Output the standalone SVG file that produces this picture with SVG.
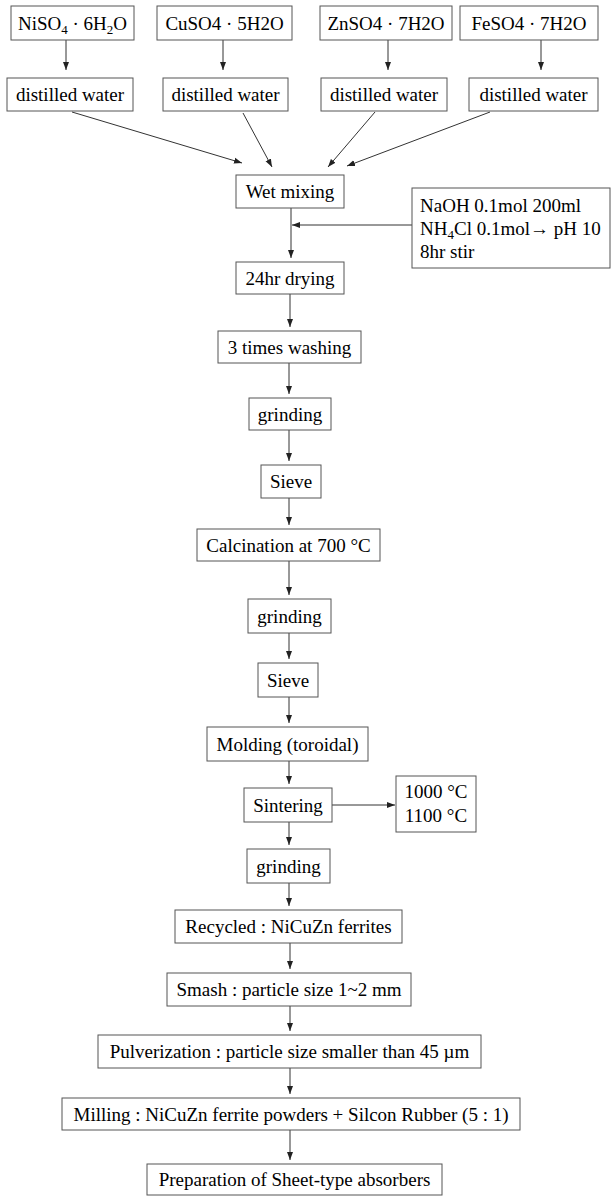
<svg xmlns="http://www.w3.org/2000/svg" width="611" height="1196" viewBox="0 0 611 1196">
<style>
.b{fill:#fff;stroke:#555;stroke-width:1}
.t{font-family:"Liberation Serif","Times New Roman",serif;font-size:19px;fill:#000;text-anchor:middle}
.l{text-anchor:start}
.c{stroke:#333;stroke-width:1;fill:none;marker-end:url(#ah)}
</style>
<defs>
<marker id="ah" markerUnits="userSpaceOnUse" markerWidth="8" markerHeight="7" refX="8" refY="3.5" orient="auto"><path d="M0,0.5 L8,3.5 L0,6.5 z" fill="#222"/></marker>
</defs>
<rect width="611" height="1196" fill="#fff"/>
<g id="connectors">
<line class="c" x1="66" y1="40" x2="66" y2="70"/>
<line class="c" x1="223" y1="40" x2="223" y2="70"/>
<line class="c" x1="388" y1="40" x2="388" y2="70"/>
<line class="c" x1="541" y1="40" x2="541" y2="70"/>
<line class="c" x1="72" y1="112" x2="242" y2="163"/>
<line class="c" x1="243" y1="113" x2="272" y2="167"/>
<line class="c" x1="375" y1="112" x2="328" y2="167"/>
<line class="c" x1="490" y1="112" x2="347" y2="166"/>
<line class="c" x1="291" y1="208" x2="291" y2="258"/>
<line class="c" x1="412" y1="225" x2="292" y2="225"/>
<line class="c" x1="290" y1="294" x2="290" y2="327"/>
<line class="c" x1="289" y1="363" x2="289" y2="394"/>
<line class="c" x1="289" y1="430" x2="289" y2="461"/>
<line class="c" x1="289" y1="498" x2="289" y2="525"/>
<line class="c" x1="289" y1="561" x2="289" y2="595"/>
<line class="c" x1="289" y1="633" x2="289" y2="659"/>
<line class="c" x1="289" y1="697" x2="289" y2="723"/>
<line class="c" x1="289" y1="761" x2="289" y2="784"/>
<line class="c" x1="332" y1="805" x2="395" y2="805"/>
<line class="c" x1="289" y1="822" x2="289" y2="845"/>
<line class="c" x1="289" y1="883" x2="289" y2="906"/>
<line class="c" x1="290" y1="943" x2="290" y2="969"/>
<line class="c" x1="290" y1="1006" x2="290" y2="1031"/>
<line class="c" x1="290" y1="1068" x2="290" y2="1094"/>
<line class="c" x1="290" y1="1130" x2="290" y2="1160"/>
</g>
<g id="niso4"><rect class="b" x="11" y="6" width="123" height="34"/><text class="t" x="72.5" y="29.5">NiSO<tspan font-size="13" dy="4">4</tspan><tspan dy="-4"> · 6H</tspan><tspan font-size="13" dy="4">2</tspan><tspan dy="-4">O</tspan></text></g>
<g id="cuso4"><rect class="b" x="157" y="6" width="135" height="34"/><text class="t" x="224.5" y="29.5">CuSO4 · 5H2O</text></g>
<g id="znso4"><rect class="b" x="320" y="6" width="132" height="34"/><text class="t" x="386" y="29.5">ZnSO4 · 7H2O</text></g>
<g id="feso4"><rect class="b" x="460" y="6" width="138" height="34"/><text class="t" x="529" y="29.5">FeSO4 · 7H2O</text></g>
<g id="dw1"><rect class="b" x="7" y="78" width="126" height="33"/><text class="t" x="70" y="100.5">distilled water</text></g>
<g id="dw2"><rect class="b" x="163" y="78" width="125" height="33"/><text class="t" x="225.5" y="100.5">distilled water</text></g>
<g id="dw3"><rect class="b" x="321" y="78" width="126" height="33"/><text class="t" x="384" y="100.5">distilled water</text></g>
<g id="dw4"><rect class="b" x="469" y="78" width="129" height="33"/><text class="t" x="533.5" y="100.5">distilled water</text></g>
<g id="wetmix"><rect class="b" x="236" y="175" width="108" height="33"/><text class="t" x="290" y="198">Wet mixing</text></g>
<g id="naoh"><rect class="b" x="412" y="188" width="198" height="80"/><text class="t l" x="420" y="212">NaOH 0.1mol 200ml</text><text class="t l" x="420" y="235">NH<tspan font-size="13" dy="4">4</tspan><tspan dy="-4">Cl 0.1mol→ pH 10</tspan></text><text class="t l" x="420" y="258">8hr stir</text></g>
<g id="drying"><rect class="b" x="236" y="262" width="108" height="32"/><text class="t" x="290" y="284.5">24hr drying</text></g>
<g id="washing"><rect class="b" x="218" y="331" width="143" height="32"/><text class="t" x="289.5" y="353.5">3 times washing</text></g>
<g id="grinding1"><rect class="b" x="249" y="398" width="82" height="32"/><text class="t" x="290" y="420.5">grinding</text></g>
<g id="sieve1"><rect class="b" x="261" y="465" width="60" height="33"/><text class="t" x="291" y="488">Sieve</text></g>
<g id="calcination"><rect class="b" x="197" y="529" width="183" height="32"/><text class="t" x="288.5" y="551.5">Calcination at 700 °C</text></g>
<g id="grinding2"><rect class="b" x="248" y="599" width="83" height="34"/><text class="t" x="289.5" y="622.5">grinding</text></g>
<g id="sieve2"><rect class="b" x="258" y="663" width="60" height="34"/><text class="t" x="288" y="686.5">Sieve</text></g>
<g id="molding"><rect class="b" x="207" y="727" width="161" height="34"/><text class="t" x="287.5" y="750.5">Molding (toroidal)</text></g>
<g id="sintering"><rect class="b" x="244" y="788" width="88" height="34"/><text class="t" x="288" y="811.5">Sintering</text></g>
<g id="temps"><rect class="b" x="396" y="776" width="80" height="56"/><text class="t" x="436" y="798">1000 °C</text><text class="t" x="436" y="822">1100 °C</text></g>
<g id="grinding3"><rect class="b" x="247" y="849" width="83" height="34"/><text class="t" x="288.5" y="872.5">grinding</text></g>
<g id="recycled"><rect class="b" x="175" y="910" width="227" height="33"/><text class="t" x="288.5" y="933">Recycled : NiCuZn ferrites</text></g>
<g id="smash"><rect class="b" x="167" y="973" width="244" height="33"/><text class="t" x="289" y="996">Smash : particle size 1~2 mm</text></g>
<g id="pulverization"><rect class="b" x="98" y="1035" width="383" height="33"/><text class="t" x="289.5" y="1058">Pulverization : particle size smaller than 45 µm</text></g>
<g id="milling"><rect class="b" x="62" y="1098" width="458" height="32"/><text class="t" x="291" y="1120.5">Milling : NiCuZn ferrite powders + Silcon Rubber (5 : 1)</text></g>
<g id="preparation"><rect class="b" x="147" y="1164" width="295" height="31"/><text class="t" x="294.5" y="1186">Preparation of Sheet-type absorbers</text></g>
</svg>
